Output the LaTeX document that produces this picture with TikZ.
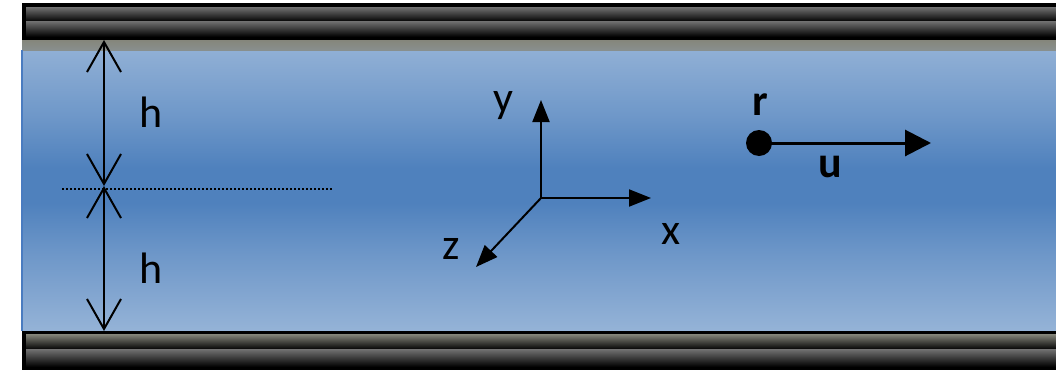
\documentclass[tikz,border=0pt]{standalone}
\usepackage{fontspec}
\setmainfont{Carlito}
\usetikzlibrary{arrows.meta,positioning,calc}
\definecolor{flowpale}{HTML}{95B3D7}
\definecolor{flowdeep}{HTML}{4F81BD}
\definecolor{flowedge}{HTML}{4A7CC0}
\definecolor{platelight}{HTML}{727272}
\definecolor{platedark}{HTML}{060606}
\definecolor{wallshade}{HTML}{85867B}
\pgfdeclareverticalshading{flowband}{100bp}{
  color(0bp)=(flowpale); color(25bp)=(flowpale);
  color(38bp)=(flowpale!45!flowdeep); color(47bp)=(flowdeep);
  color(53bp)=(flowdeep); color(62bp)=(flowpale!45!flowdeep);
  color(75bp)=(flowpale); color(100bp)=(flowpale)}
\tikzset{
  gaparrow/.style={{Straight Barb[length=30pt,width=34pt]}-{Straight Barb[length=30pt,width=34pt]},line width=2pt},
  axisarrow/.style={-{Triangle[length=22pt,width=17pt]},line width=2pt},
  axislabel/.style={inner sep=0pt,font=\fontsize{44}{52}\selectfont}
}

\begin{document}
\begin{tikzpicture}[
  x=1pt,
  y=-1pt,
  particle/.style={
    circle,
    fill=black,
    inner sep=0pt,
    minimum size=26pt
  },
  velarrow/.style={
    -{Triangle[length=26pt,width=26pt]},
    line width=3pt
  },
  platebar/.style={
    top color=platelight,
    bottom color=platedark
  }
]

  \useasboundingbox (0,0) rectangle (1056,375);
  \fill[white] (0,0) rectangle (1056,375);

  % --------------------------------------------------------------
  % The fluid layer between the walls.
  % --------------------------------------------------------------
  \shade[shading=flowband] (22,40) rectangle (1056,331);
  \shade[top color=wallshade,bottom color=wallshade!80!flowpale]
    (22,40) rectangle (1056,50);
  \draw[flowedge,line width=2pt] (22,50) -- (22,331);

  % --------------------------------------------------------------
  % The two walls.
  % --------------------------------------------------------------
  \fill[black] (22,3) rectangle (1056,40);
  \shade[platebar] (26,7) rectangle (1056,21);
  \shade[platebar] (26,21) rectangle (1056,36);

  \fill[black] (22,331) rectangle (1056,370);
  \shade[platebar,top color=wallshade] (26,334) rectangle (1056,349);
  \shade[platebar] (26,349) rectangle (1056,366);

  % --------------------------------------------------------------
  % Half gap h, both sides of the mid plane.
  % --------------------------------------------------------------
  \coordinate (wallTop) at (104,40);
  \coordinate (gapMid)  at (104,186);
  \coordinate (wallBot) at (104,331);
  \coordinate (midL)    at (62,189);
  \coordinate (midR)    at (333,189);

  \draw[gaparrow] (wallTop) -- (gapMid);
  \draw[gaparrow] (gapMid) -- (wallBot);
  \draw[line width=1.5pt,dash pattern=on 2pt off 2pt] (midL) -- (midR);

  \node[axislabel] (hUpper) at (151,112) {h};
  \node[axislabel] (hLower) at (151,268) {h};

  % --------------------------------------------------------------
  % Axes.
  % --------------------------------------------------------------
  \coordinate (origin) at (541,198);
  \coordinate (xTip)   at (651,198);
  \coordinate (yTip)   at (541,100);
  \coordinate (zTip)   at (476,267);

  \foreach \t in {xTip,yTip,zTip}
    {\draw[axisarrow] (origin) -- (\t);}

  \node[axislabel] (xLabel) at (671,234) {x};
  \node[axislabel] (yLabel) at (503,106) {y};
  \node[axislabel] (zLabel) at (451,249) {z};

  % --------------------------------------------------------------
  % Particle at r moving with velocity u.
  % --------------------------------------------------------------
  \node[particle] (rDot) at (759,143) {};
  \coordinate (uTip) at (931,143);
  \draw[velarrow] (rDot.center) -- (uTip);

  \node[axislabel,font=\fontsize{44}{52}\selectfont\bfseries] (rLabel) at (760,105) {r};
  \node[axislabel,font=\fontsize{44}{52}\selectfont\bfseries] (uLabel) at (830,167) {u};

\end{tikzpicture}
\end{document}
